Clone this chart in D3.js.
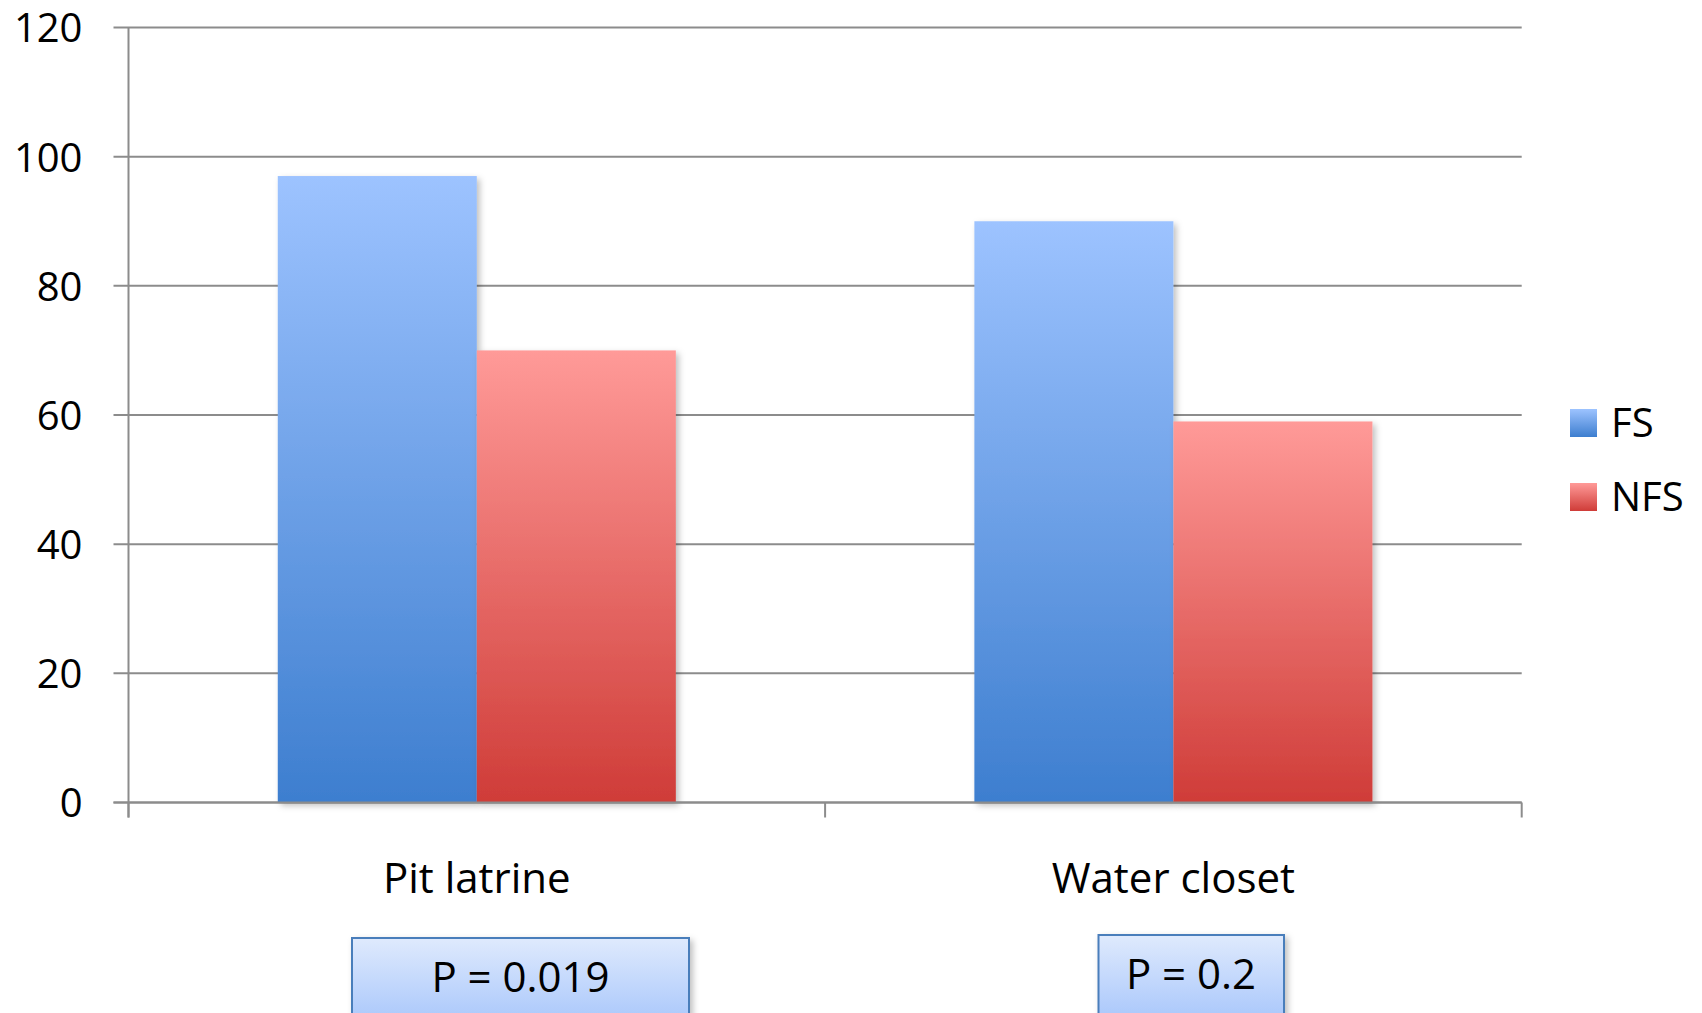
<!DOCTYPE html>
<html>
<head>
<meta charset="utf-8">
<script src="https://cdn.jsdelivr.net/npm/d3@7"></script>
<style>
  html, body { margin: 0; padding: 0; background: #fff; }
  svg { display: block; font-family: "Open Sans", "Noto Sans", sans-serif; }
</style>
</head>
<body>
<svg id="chart" width="1702" height="1013"></svg>
<script>
// ---- data ----
const categories = ["Pit latrine", "Water closet"];
const seriesNames = ["FS", "NFS"];
const fsValues = [97, 90];
const nfsValues = [70, 59];
const yTicks = [0, 20, 40, 60, 80, 100, 120];
const pLabels = ["P = 0.019", "P = 0.2"];

(function () {
const svg = d3.select("#chart");
const plotL = 128.5, plotR = 1521.7, plotT = 27.5, plotB = 802.5;

const y = d3.scaleLinear().domain([0, 120]).range([plotB, plotT]);
const x0 = d3.scaleBand().domain(categories).range([plotL, plotR]).padding(0);
const x1 = d3.scaleBand().domain(seriesNames).range([0, x0.bandwidth()]).paddingInner(0).paddingOuter(0.75);

const defs = svg.append("defs");
function vgrad(id, c1, c2) {
  const g = defs.append("linearGradient").attr("id", id).attr("x1", 0).attr("y1", 0).attr("x2", 0).attr("y2", 1);
  g.append("stop").attr("offset", "0%").attr("stop-color", c1);
  g.append("stop").attr("offset", "100%").attr("stop-color", c2);
  return g;
}
vgrad("gFS", "#9dc3ff", "#3d7ecf");
vgrad("gNFS", "#ff9a98", "#cf3c38");
vgrad("gBox", "#dfeafd", "#a6c5fb");
vgrad("lgFS", "#9dc3ff", "#3d7ecf");
vgrad("lgNFS", "#ff9a98", "#cf3c38");

const sh = defs.append("filter").attr("id", "shadow").attr("x", "-10%").attr("y", "-10%").attr("width", "130%").attr("height", "130%");
sh.append("feDropShadow").attr("dx", 3).attr("dy", 3).attr("stdDeviation", 3).attr("flood-color", "#000").attr("flood-opacity", 0.25);

// ---- y axis labels ----
const yAxis = d3.axisLeft(y).tickValues(yTicks).tickSize(0).tickPadding(0).tickFormat(d3.format("d"));
const gy = svg.append("g").attr("transform", `translate(${plotL},0)`);
gy.call(yAxis);
gy.select(".domain").remove();
gy.selectAll(".tick line").remove();
gy.selectAll(".tick text").attr("x", -46).attr("font-size", 40).attr("fill", "#000")
  .attr("font-family", "Open Sans").attr("dy", "0.36em");

// ---- grid lines ----
svg.append("g").selectAll("line").data(yTicks).join("line")
  .attr("x1", plotL - 15).attr("x2", plotR)
  .attr("y1", d => y(d)).attr("y2", d => y(d))
  .attr("stroke", "#8c8c8c").attr("stroke-width", 2);

// y axis line
svg.append("line").attr("x1", plotL).attr("x2", plotL).attr("y1", plotT).attr("y2", plotB + 15)
  .attr("stroke", "#8c8c8c").attr("stroke-width", 2);

// x category tick marks
const catEdges = categories.map(c => x0(c)).concat([x0(categories[categories.length - 1]) + x0.bandwidth()]);
svg.append("g").selectAll("line").data(catEdges).join("line")
  .attr("x1", d => d).attr("x2", d => d).attr("y1", plotB).attr("y2", plotB + 15)
  .attr("stroke", "#8c8c8c").attr("stroke-width", 2);

// ---- bars ----
const rows = categories.map((c, i) => ({ cat: c, vals: [{ s: "FS", v: fsValues[i] }, { s: "NFS", v: nfsValues[i] }] }));
const groups = svg.append("g").selectAll("g").data(rows).join("g")
  .attr("transform", d => `translate(${x0(d.cat)},0)`);
groups.selectAll("rect").data(d => d.vals).join("rect")
  .attr("x", d => x1(d.s))
  .attr("y", d => y(d.v))
  .attr("width", x1.bandwidth())
  .attr("height", d => plotB - y(d.v))
  .attr("fill", d => d.s === "FS" ? "url(#gFS)" : "url(#gNFS)")
  .attr("filter", "url(#shadow)");

// axis baseline over bars
svg.append("line").attr("x1", plotL - 15).attr("x2", plotR).attr("y1", plotB).attr("y2", plotB)
  .attr("stroke", "#8c8c8c").attr("stroke-width", 2);

// ---- category labels ----
svg.append("g").selectAll("text").data(categories).join("text")
  .attr("x", d => x0(d) + x0.bandwidth() / 2)
  .attr("y", 893)
  .attr("text-anchor", "middle")
  .attr("font-size", 42)
  .attr("fill", "#000")
  .text(d => d);

// ---- legend ----
const legend = svg.append("g");
const legendY = [409, 483];
seriesNames.forEach((s, i) => {
  legend.append("rect").attr("x", 1570).attr("y", legendY[i]).attr("width", 27).attr("height", 28)
    .attr("fill", i === 0 ? "url(#lgFS)" : "url(#lgNFS)");
  legend.append("text").attr("x", 1611).attr("y", legendY[i] + 14).attr("dy", "0.36em")
    .attr("font-size", 40).attr("fill", "#000").text(s);
});

// ---- P value boxes ----
const boxes = [
  { x: 352, y: 938, w: 337, h: 90, cx: 520.5, by: 992 },
  { x: 1098.5, y: 935, w: 185.5, h: 90, cx: 1191, by: 989 }
];
const pg = svg.append("g");
pLabels.forEach((t, i) => {
  const b = boxes[i];
  pg.append("rect").attr("x", b.x).attr("y", b.y).attr("width", b.w).attr("height", b.h)
    .attr("fill", "url(#gBox)").attr("stroke", "#4a7ebb").attr("stroke-width", 2)
    .attr("filter", "url(#shadow)");
  pg.append("text").attr("x", b.cx).attr("y", b.by).attr("text-anchor", "middle")
    .attr("font-size", 42).attr("fill", "#000").text(t);
});
})();
</script>
</body>
</html>
